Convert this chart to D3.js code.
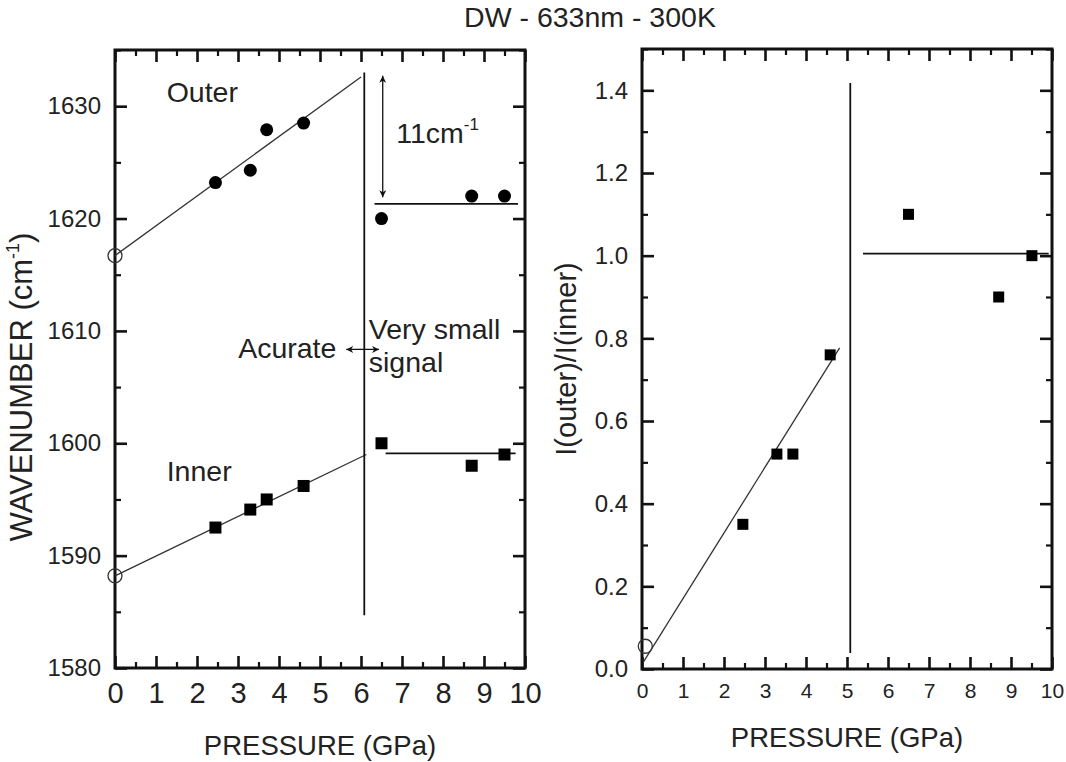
<!DOCTYPE html>
<html>
<head>
<meta charset="utf-8">
<script src="https://cdn.jsdelivr.net/npm/d3@7"></script>
<style>
  body { margin: 0; background: #fff; }
  text { font-family: "Liberation Sans", Arial, Helvetica, sans-serif; fill: #222; }
</style>
</head>
<body>
<svg id="chart" width="1066" height="762"></svg>
<script>
// ---- data ----
const pressures = [2.45, 3.3, 3.7, 4.6, 6.5, 8.7, 9.5];
const outerWave = [1623.2, 1624.3, 1627.9, 1628.5, 1620.0, 1622.0, 1622.0];
const innerWave = [1592.5, 1594.1, 1595.0, 1596.2, 1600.0, 1598.0, 1599.0];
const ratioPressure = [2.46, 3.29, 3.68, 4.59, 6.5, 8.7, 9.51];
const ratioValues = [0.35, 0.52, 0.52, 0.76, 1.10, 0.90, 1.00];

// open circles (ambient pressure values)
const ambientWave = [[0, 1616.7], [0, 1588.2]];
const ambientRatio = [[0.08, 0.055]];

// fitted / guide lines
const outerFit = [[0, 1616.7], [6.0, 1632.6]];
const outerFlat = [[6.33, 1621.3], [9.83, 1621.3]];
const innerFit = [[0, 1588.2], [6.13, 1599.0]];
const innerFlat = [[6.6, 1599.1], [9.77, 1599.1]];
const waveDivider = [[6.08, 1584.7], [6.08, 1633.0]];
const shiftArrow = [[6.53, 1632.7], [6.53, 1621.9]];
const regimeArrow = [[5.64, 1608.35], [6.44, 1608.35]];
const ratioFit = [[0.04, 0.018], [4.82, 0.777]];
const ratioFlat = [[5.39, 1.005], [9.92, 1.005]];
const ratioDivider = [[5.08, 0.039], [5.08, 1.418]];

// tick labels
const pressureTicks = [0, 1, 2, 3, 4, 5, 6, 7, 8, 9, 10];
const pressureMinor = [0.5, 1.5, 2.5, 3.5, 4.5, 5.5, 6.5, 7.5, 8.5, 9.5];
const waveTicks = [1580, 1590, 1600, 1610, 1620, 1630];
const waveMinor = [1585, 1595, 1605, 1615, 1625, 1635];
const ratioTicks = [0.0, 0.2, 0.4, 0.6, 0.8, 1.0, 1.2, 1.4];
const ratioMinor = [0.1, 0.3, 0.5, 0.7, 0.9, 1.1, 1.3, 1.5];

const svg = d3.select("#chart");

// arrow heads
const defs = svg.append("defs");
defs.append("marker")
    .attr("id", "head")
    .attr("viewBox", "0 0 10 10")
    .attr("refX", 10).attr("refY", 5)
    .attr("markerWidth", 9).attr("markerHeight", 7)
    .attr("markerUnits", "userSpaceOnUse")
    .attr("orient", "auto-start-reverse")
    .append("path").attr("d", "M0,0 L10,5 L0,10 L3,5 z").attr("fill", "#111");

// title
svg.append("text")
    .attr("x", 590).attr("y", 27)
    .attr("text-anchor", "middle")
    .style("font-size", "28.5px")
    .text("DW - 633nm - 300K");

function drawFrame(g, x, y, w, h, opt) {
    // major and minor ticks on all four sides, pointing inward
    function axisSet(axisFn, scale, major, minor, transform, labels) {
        let a = g.append("g").attr("transform", transform)
            .call(axisFn(scale).tickValues(major).tickSize(-12).tickPadding(opt.pad)
                .tickFormat(labels ? opt.fmt(axisFn) : ""));
        a.select(".domain").remove();
        a.selectAll("line").attr("stroke", "#111").attr("stroke-width", 2.6);
        a.selectAll("text").style("font-size", labels ? opt.font(axisFn) : "0px");
        let m = g.append("g").attr("transform", transform)
            .call(axisFn(scale).tickValues(minor).tickSize(-6).tickFormat(""));
        m.select(".domain").remove();
        m.selectAll("line").attr("stroke", "#111").attr("stroke-width", 2.2);
    }
    axisSet(d3.axisBottom, x, pressureTicks, pressureMinor, `translate(0,${h})`, true);
    axisSet(d3.axisTop, x, pressureTicks, pressureMinor, "translate(0,0)", false);
    axisSet(d3.axisLeft, y, opt.yTicks, opt.yMinor, "translate(0,0)", true);
    axisSet(d3.axisRight, y, opt.yTicks, opt.yMinor, `translate(${w},0)`, false);

    g.append("rect")
        .attr("width", w).attr("height", h)
        .attr("fill", "none").attr("stroke", "#111").attr("stroke-width", 3);
}

const line = (x, y) => d3.line().x(d => x(d[0])).y(d => y(d[1]));

// ===== left panel: wavenumber vs pressure =====
const L = { left: 115, top: 50, w: 410, h: 618 };
const xL = d3.scaleLinear().domain([0, 10]).range([0, L.w]);
const yL = d3.scaleLinear().domain([1580, 1635]).range([L.h, 0]);
const gL = svg.append("g").attr("transform", `translate(${L.left},${L.top})`);

drawFrame(gL, xL, yL, L.w, L.h, {
    pad: 14,
    yTicks: waveTicks, yMinor: waveMinor,
    fmt: fn => d3.format("d"),
    font: fn => fn === d3.axisBottom ? "29px" : "24px"
});

[outerFit, innerFit].forEach(seg => {
    gL.append("path").datum(seg).attr("d", line(xL, yL))
        .attr("stroke", "#333").attr("stroke-width", 1.3).attr("fill", "none");
});
[outerFlat, innerFlat, waveDivider].forEach(seg => {
    gL.append("path").datum(seg).attr("d", line(xL, yL))
        .attr("stroke", "#111").attr("stroke-width", 1.8).attr("fill", "none");
});
[shiftArrow, regimeArrow].forEach(seg => {
    gL.append("path").datum(seg).attr("d", line(xL, yL))
        .attr("stroke", "#111").attr("stroke-width", 1.3).attr("fill", "none")
        .attr("marker-start", "url(#head)").attr("marker-end", "url(#head)");
});

gL.selectAll(".outer").data(pressures.map((p, i) => [p, outerWave[i]]))
    .join("circle").attr("class", "outer")
    .attr("cx", d => xL(d[0])).attr("cy", d => yL(d[1])).attr("r", 6.5)
    .attr("fill", "#000");
gL.selectAll(".inner").data(pressures.map((p, i) => [p, innerWave[i]]))
    .join("rect").attr("class", "inner")
    .attr("x", d => xL(d[0]) - 6).attr("y", d => yL(d[1]) - 6)
    .attr("width", 12).attr("height", 12).attr("fill", "#000");
gL.selectAll(".amb").data(ambientWave)
    .join("circle").attr("class", "amb")
    .attr("cx", d => xL(d[0])).attr("cy", d => yL(d[1])).attr("r", 7)
    .attr("fill", "none").attr("stroke", "#333").attr("stroke-width", 1.3);

// annotations (data coordinates)
const notes = [
    { x: 1.26, y: 1630.4, t: "Outer", anchor: "start" },
    { x: 1.26, y: 1596.6, t: "Inner", anchor: "start" },
    { x: 5.40, y: 1607.55, t: "Acurate", anchor: "end" },
    { x: 6.19, y: 1609.3, t: "Very small", anchor: "start" },
    { x: 6.19, y: 1606.3, t: "signal", anchor: "start" }
];
gL.selectAll(".note").data(notes).join("text").attr("class", "note")
    .attr("x", d => xL(d.x)).attr("y", d => yL(d.y))
    .attr("text-anchor", d => d.anchor)
    .style("font-size", "28.5px")
    .text(d => d.t);
const shiftLabel = gL.append("text")
    .attr("x", xL(6.86)).attr("y", yL(1626.7))
    .style("font-size", "28.5px");
shiftLabel.append("tspan").text("11cm");
shiftLabel.append("tspan").attr("dy", -13).style("font-size", "17px").text("-1");

gL.append("text")
    .attr("transform", `translate(-83,${L.h / 2 + 28}) rotate(-90)`)
    .attr("text-anchor", "middle")
    .style("font-size", "31px")
    .call(t => {
        t.append("tspan").text("WAVENUMBER (cm");
        t.append("tspan").attr("dy", -13).style("font-size", "18px").text("-1");
        t.append("tspan").attr("dy", 13).text(")");
    });
gL.append("text")
    .attr("x", L.w / 2).attr("y", L.h + 87)
    .attr("text-anchor", "middle")
    .style("font-size", "27.5px")
    .text("PRESSURE (GPa)");

// ===== right panel: intensity ratio vs pressure =====
const R = { left: 642, top: 49, w: 410, h: 620 };
const xR = d3.scaleLinear().domain([0, 10]).range([0, R.w]);
const yR = d3.scaleLinear().domain([0, 1.5]).range([R.h, 0]);
const gR = svg.append("g").attr("transform", `translate(${R.left},${R.top})`);

drawFrame(gR, xR, yR, R.w, R.h, {
    pad: 14,
    yTicks: ratioTicks, yMinor: ratioMinor,
    fmt: fn => fn === d3.axisBottom ? d3.format("d") : d3.format(".1f"),
    font: fn => fn === d3.axisBottom ? "21px" : "24px"
});

gR.append("path").datum(ratioFit).attr("d", line(xR, yR))
    .attr("stroke", "#333").attr("stroke-width", 1.3).attr("fill", "none");
[ratioFlat, ratioDivider].forEach(seg => {
    gR.append("path").datum(seg).attr("d", line(xR, yR))
        .attr("stroke", "#111").attr("stroke-width", 1.8).attr("fill", "none");
});
gR.selectAll(".ratio").data(ratioPressure.map((p, i) => [p, ratioValues[i]]))
    .join("rect").attr("class", "ratio")
    .attr("x", d => xR(d[0]) - 5.5).attr("y", d => yR(d[1]) - 5.5)
    .attr("width", 11).attr("height", 11).attr("fill", "#000");
gR.selectAll(".amb").data(ambientRatio)
    .join("circle").attr("class", "amb")
    .attr("cx", d => xR(d[0])).attr("cy", d => yR(d[1])).attr("r", 7)
    .attr("fill", "none").attr("stroke", "#333").attr("stroke-width", 1.3);

gR.append("text")
    .attr("transform", `translate(-66,${R.h / 2}) rotate(-90)`)
    .attr("text-anchor", "middle")
    .style("font-size", "29px")
    .text("I(outer)/I(inner)");
gR.append("text")
    .attr("x", R.w / 2).attr("y", R.h + 78)
    .attr("text-anchor", "middle")
    .style("font-size", "27.5px")
    .text("PRESSURE (GPa)");
</script>
</body>
</html>
